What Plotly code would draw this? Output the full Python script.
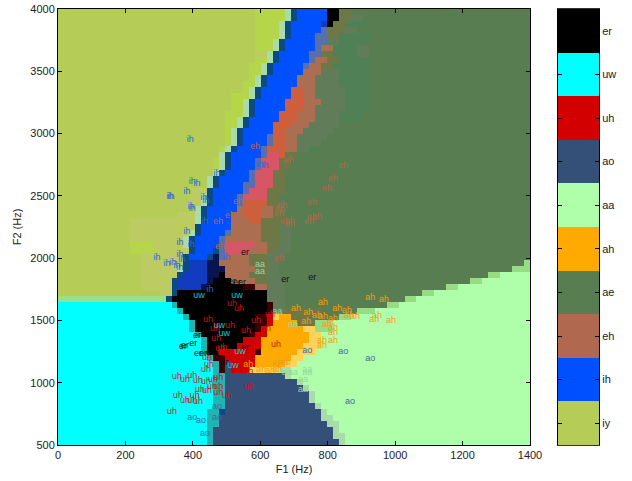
import plotly.graph_objects as go

# Vowel classes, top of the colour bar first
VOWELS = ["er", "uw", "uh", "ao", "aa", "ah", "ae", "eh", "ih", "iy"]
VOWEL_COLORS = ["#000000", "#00ffff", "#d20000", "#355078", "#afffaa",
                "#ffaa00", "#587d50", "#b0684e", "#0050ff", "#b5cc57"]
LABEL_COLORS = {"er": "#111111", "uw": "#12c8d2", "uh": "#c01818", "ao": "#3d6c98", "aa": "#98d8a0",
                "ah": "#f0a010", "eh": "#b0684e", "ih": "#2a68d8"}

# Region shades of the decision map (code -> colour)
SHADES = {
    "k": "#000000", "c": "#00ffff", "r": "#d20000", "n": "#355078", "a": "#afffaa",
    "o": "#ffaa00", "g": "#587d50", "e": "#b0684e", "b": "#0050ff", "y": "#b5cc57",
    "l": "#b4d648", "j": "#bccb62", "w": "#a8dcaa", "d": "#0c4a86", "B": "#123cc0",
    "v": "#5a6eaa", "m": "#ac6e50", "R": "#cd5f3c", "p": "#d75564", "h": "#6e7846",
    "s": "#607c58", "G": "#508055", "t": "#3c0000", "z": "#20b4b4", "f": "#96e18c",
    "O": "#ffd25a", "A": "#96dc82", "D": "#0a1450",
}

# Map rows from F2=4000 downward: code + end column of each run
REGION_ROWS = [
    "y33 l38 w39 d40 b45 k47 h49 g79",
    "y33 l38 w39 d40 b45 k47 h49 s51 g79",
    "y33 l37 w38 d39 b44 B45 k46 h48 G52 g79",
    "y33 l37 w38 d39 b44 v45 h48 s50 g79",
    "y33 l37 w38 d39 b43 v45 h47 G52 g79",
    "y33 l36 w37 d38 b43 v45 s47 G52 g79",
    "y33 l36 w37 d38 b43 v44 m46 G50 s52 g79",
    "y33 j35 w36 d37 b42 v44 h46 G50 s52 g79",
    "y33 l35 w36 d37 b42 v43 m45 h47 G52 g79",
    "y32 l34 w35 d36 b41 v42 m44 h46 G52 g79",
    "y32 l34 w35 d36 b41 m44 s47 G52 g79",
    "y32 l33 w34 d35 b40 m43 s47 G52 g79",
    "y31 l33 w34 d35 b40 m43 s47 G52 g79",
    "y31 l32 w33 d34 b39 R41 m43 s48 G52 g79",
    "y29 l32 w33 d34 b39 R41 m43 s48 G52 g79",
    "y29 l31 w32 d33 b38 R41 m44 s48 G52 g79",
    "y29 l31 w32 d33 b38 R41 m43 s48 G52 g79",
    "y28 l31 w32 d33 b37 R40 m43 s47 G51 g79",
    "y28 l30 w31 d32 b37 R40 m43 s47 G51 g79",
    "y28 l30 w31 d32 b36 R39 m42 s47 g79",
    "y28 l29 w30 d31 b36 R38 m41 s46 g79",
    "y28 l29 w30 d31 b35 v36 R38 m40 s45 g79",
    "y28 l29 w30 d31 b35 v36 R38 m40 s44 g79",
    "y27 l28 w29 d30 b34 v35 R38 m40 s42 G43 g79",
    "y27 w28 d29 b34 v35 p37 R38 h40 g79",
    "y26 l27 w28 d29 b33 v34 p37 h39 g79",
    "y26 l27 w28 d29 b33 v34 p37 h39 g79",
    "y26 w27 d28 b32 v33 p36 h38 g79",
    "y25 w26 d27 b32 v33 p36 h38 g79",
    "y25 w26 d27 b31 v33 p36 h38 g79",
    "y22 j25 d26 b31 v32 p35 h38 g79",
    "y22 j24 w25 d26 b30 v31 p35 h37 g79",
    "y22 j24 w25 d26 b30 v31 R35 h37 s38 g79",
    "y22 j23 w24 d25 b30 m31 R34 m36 h38 g79",
    "y20 j23 w24 d25 b29 m31 R34 m36 h38 g79",
    "y12 j23 w24 d25 b29 m32 R34 h38 g79",
    "y12 j23 d24 b29 m34 h37 s39 g79",
    "y12 j22 w23 d24 b28 v29 m34 h37 s39 g79",
    "y12 j21 w22 d23 b27 v28 m34 h37 s39 g79",
    "y12 l16 j21 w22 d23 b27 v28 p33 m35 h37 s39 g79",
    "y12 l16 j22 d23 b26 d27 v28 p32 m35 h36 s39 g79",
    "y14 j21 d22 b25 d26 D27 v28 m32 h35 s38 g79",
    "y14 j21 d22 B25 D27 m32 h35 s37 g78 A79",
    "y14 j20 w21 d22 B25 D28 m33 h35 s37 g76 A79",
    "y14 j20 d21 B25 D27 k28 m32 h35 s37 g72 A74 a79",
    "y14 j19 d20 B25 D26 k29 m33 h35 s38 g69 A71 a79",
    "y14 j19 d20 B24 D25 k31 t33 m35 s38 g65 A67 a79",
    "y17 j19 d20 k35 s38 g61 A63 a79",
    "f18 d19 k35 s38 g58 A60 a79",
    "c19 z20 k35 t36 s38 g55 A57 a79",
    "c20 z21 k35 t36 s38 h44 g50 A53 a79",
    "c21 z22 k33 t35 r36 O37 o39 h44 g47 A49 a79",
    "c22 z23 k33 t35 r36 o40 h43 A46 a79",
    "c22 z23 k33 t34 r35 o41 O43 A46 a79",
    "c23 z24 k32 t33 r35 o42 O44 a79",
    "c24 z25 k31 r34 o42 O44 a79",
    "c24 z25 k30 r34 o41 O44 a79",
    "c24 z25 k27 r33 t34 o40 O43 a79",
    "c25 z26 t28 r33 o39 O41 a79",
    "c26 z27 t28 n29 r33 o38 O40 a79",
    "c26 z27 t28 n29 r32 O37 w39 a79",
    "c26 z28 n38 w39 a79",
    "c26 z28 n40 w41 a79",
    "c26 z28 n41 w42 a79",
    "c26 z28 n42 w43 a79",
    "c26 z28 n42 w43 a79",
    "c26 z28 n43 w44 a79",
    "c25 z27 d28 n44 w45 a79",
    "c25 z27 n44 w46 a79",
    "c25 z27 n45 w47 a79",
    "c25 z26 n46 w47 a79",
    "c25 z26 n46 w48 a79",
    "c25 z26 n47 w48 a79",
]

# Vowel tokens: F1 and F2 in Hz
TOKENS = {
    "ih": ([392, 398, 412, 472, 332, 335, 383, 433, 439, 395, 398, 436, 383, 362, 395, 294, 323, 341, 362, 368, 353, 362, 501, 451, 599, 614],
           [2948, 2611, 2595, 2675, 2490, 2490, 2531, 2482, 2458, 2410, 2394, 2290, 2210, 2121, 2105, 2001, 1953, 1961, 2025, 1985, 1937, 1921, 2001, 1744, 2747, 2739]),
    "eh": ([585, 685, 846, 816, 798, 754, 665, 659, 656, 534, 510, 475, 768, 754, 745, 674, 688, 688, 481, 656],
           [2892, 2779, 2739, 2635, 2555, 2442, 2418, 2386, 2354, 2450, 2338, 2290, 2330, 2322, 2290, 2290, 2290, 2266, 2089, 1993]),
    "aa": [[697, 679, 697, 739, 739, 727, 727, 599, 599, 650],
           [1463, 1078, 1078, 1102, 1078, 1022, 941, 1945, 1888, 1567]],
    "ao": ([739, 846, 926, 866, 398, 424, 472, 472, 436],
           [1254, 1246, 1190, 845, 717, 693, 805, 717, 588]),
    "ah": ([926, 967, 786, 706, 742, 828, 857, 946, 938, 988, 768, 786, 816, 863, 881, 736, 798, 816, 816, 783, 816, 783, 650, 668, 564, 602, 629, 650, 674],
           [1680, 1664, 1640, 1592, 1559, 1592, 1575, 1535, 1503, 1495, 1535, 1527, 1511, 1535, 1527, 1487, 1463, 1439, 1399, 1335, 1335, 1295, 1158, 1158, 1142, 1102, 1094, 1102, 1158]),
    "uh": ([516, 537, 445, 587, 466, 510, 558, 617, 469, 629, 487, 442, 481, 487, 448, 439, 564, 398, 353, 377, 415, 439, 460, 475, 457, 475, 421, 442, 475, 501, 567, 356, 406, 377, 398, 415, 338, 647],
           [1632, 1592, 1503, 1495, 1431, 1455, 1415, 1431, 1351, 1543, 1279, 1198, 1270, 1238, 1142, 1102, 1086, 1054, 1046, 1022, 1014, 1006, 1022, 1038, 965, 965, 941, 933, 917, 893, 965, 893, 893, 853, 853, 845, 765, 1303]),
    "er": ([555, 674, 754, 516, 531, 546, 534, 412, 401, 377, 371, 415, 430, 451, 555, 493],
           [2041, 1824, 1840, 1808, 1800, 1800, 1768, 1375, 1311, 1295, 1287, 1230, 1230, 1238, 1279, 1158]),
    "uw": ([418, 531, 478, 493, 540, 519],
           [1696, 1696, 1455, 1391, 1246, 1134]),
}

F1_RANGE = [0, 1400]
F2_RANGE = [500, 4000]
F1_TICKS = [0, 200, 400, 600, 800, 1000, 1200, 1400]
F2_TICKS = [500, 1000, 1500, 2000, 2500, 3000, 3500, 4000]

W, H = 632, 481
FONT = "Liberation Sans"

codes = list(SHADES)
n_codes = len(codes)
grid = []
for row in REGION_ROWS:
    cells, start = [], 0
    for token in row.split():
        end = int(token[1:])
        cells += [codes.index(token[0])] * (end - start)
        start = end
    grid.append(cells)

scale = []
for i, code in enumerate(codes):
    scale += [[i / n_codes, SHADES[code]], [(i + 1) / n_codes, SHADES[code]]]

n_rows, n_cols = len(grid), len(grid[0])
dx = (F1_RANGE[1] - F1_RANGE[0]) / n_cols
dy = (F2_RANGE[1] - F2_RANGE[0]) / n_rows

fig = go.Figure()
fig.add_trace(go.Heatmap(z=grid[::-1], x0=dx / 2, dx=dx, y0=F2_RANGE[0] + dy / 2, dy=dy,
                         colorscale=scale, zmin=-0.5, zmax=n_codes - 0.5, showscale=False,
                         hoverinfo="skip", zsmooth=False))
for name, (xs, ys) in TOKENS.items():
    fig.add_trace(go.Scatter(x=xs, y=ys, mode="text", text=[name] * len(xs), showlegend=False,
                             textfont=dict(family=FONT, size=9, color=LABEL_COLORS[name]),
                             textposition="middle center", hoverinfo="skip"))

n = len(VOWELS)
bar_scale = []
for i, c in enumerate(VOWEL_COLORS[::-1]):
    bar_scale += [[i / n, c], [(i + 1) / n, c]]
fig.add_trace(go.Heatmap(z=[[i] for i in range(n)], x=[0], y=list(range(n)), xaxis="x2", yaxis="y2",
                         colorscale=bar_scale, zmin=-0.5, zmax=n - 0.5, showscale=False, hoverinfo="skip"))

axis_common = dict(showgrid=False, zeroline=False, showline=True, linecolor="black", linewidth=1,
                   ticks="inside", ticklen=4, tickcolor="black", tickwidth=1, mirror="allticks",
                   automargin=False, tickfont=dict(family=FONT, size=11, color="#222222"))
title_font = dict(family=FONT, size=11, color="#222222")
fig.update_layout(
    width=W, height=H, autosize=False, margin=dict(l=0, r=0, t=0, b=0),
    paper_bgcolor="white", plot_bgcolor="white", showlegend=False,
    xaxis=dict(domain=[58 / W, 530 / W], range=F1_RANGE, tickvals=F1_TICKS, anchor="y",
               title=dict(text="F1 (Hz)", font=title_font, standoff=5), **axis_common),
    yaxis=dict(domain=[(H - 445) / H, (H - 9) / H], range=F2_RANGE, tickvals=F2_TICKS, anchor="x",
               title=dict(text="F2 (Hz)", font=title_font, standoff=6), **axis_common),
    xaxis2=dict(domain=[558 / W, 599 / W], range=[-0.5, 0.5], showticklabels=False, ticks="",
                showline=True, linecolor="#333333", linewidth=1, mirror=True, anchor="y2",
                showgrid=False, zeroline=False, automargin=False),
    yaxis2=dict(domain=[(H - 445) / H, (H - 9) / H], range=[-0.5, n - 0.5], side="right", anchor="x2",
                tickvals=list(range(n)), ticktext=VOWELS[::-1], **axis_common),
)
fig.write_html("out.html", config={"displayModeBar": False},
               post_script="document.body.style.margin='0';document.documentElement.style.overflow='hidden';")
